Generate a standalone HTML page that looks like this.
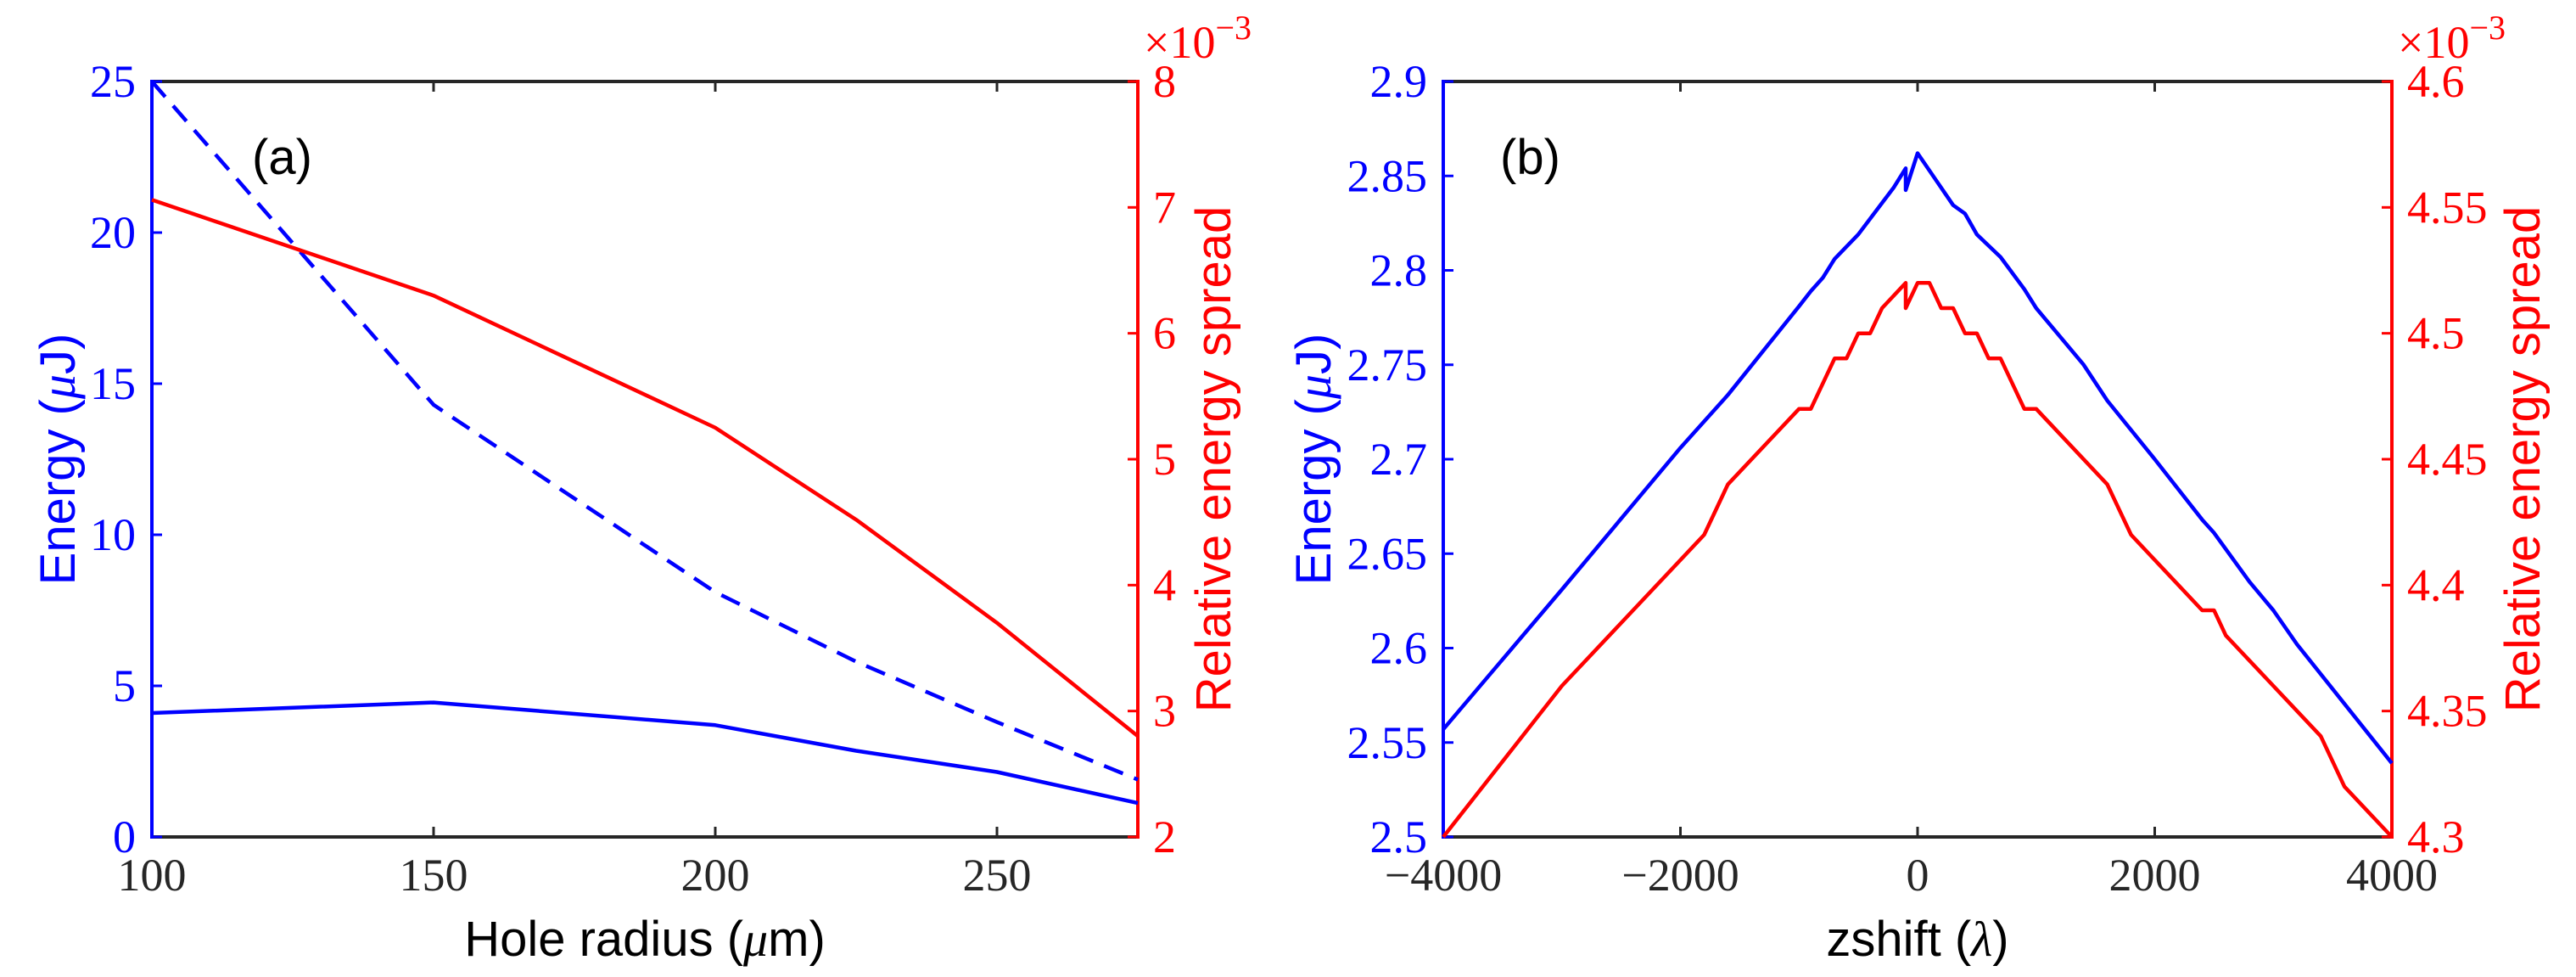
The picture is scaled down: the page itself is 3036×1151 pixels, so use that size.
<!DOCTYPE html>
<html><head><meta charset="utf-8"><style>
html,body{margin:0;padding:0;background:#fff;}
svg{display:block;}
.tk{font-family:"Liberation Serif",serif;font-size:54px;}
.lab{font-family:"Liberation Sans",sans-serif;font-size:58px;}
</style></head><body>
<svg id="fig" width="3036" height="1151" viewBox="0 0 3036 1151" xmlns="http://www.w3.org/2000/svg">
<rect width="3036" height="1151" fill="#fff"/>
</svg>
<script>
// Panel (a) data
const aX = [100,150,200,225,250,275];
const aSolid = [4.1,4.45,3.7,2.85,2.15,1.12];
const aDashed = [25,14.3,8.1,5.8,3.8,1.9];
const aRed = [7.06,6.3,5.25,4.52,3.7,2.8];
const aXTicks = [100,150,200,250];
const aLTicks = [0,5,10,15,20,25];
const aRTicks = [2,3,4,5,6,7,8];
// Panel (b) data
const bBlueX = [-4000,-3000,-2000,-1600,-1000,-900,-800,-700,-500,-200,-100,-100,0,300,400,500,700,900,1000,1400,1600,2000,2400,2500,2800,3000,3200,4000];
const bBlueY = [2.557,2.631,2.706,2.734,2.781,2.789,2.796,2.806,2.819,2.844,2.854,2.8425,2.862,2.8345,2.830,2.819,2.807,2.790,2.780,2.750,2.731,2.700,2.668,2.661,2.635,2.620,2.602,2.539];
const bRedX = [-4000,-3000,-1800,-1600,-1000,-900,-700,-600,-500,-400,-300,-100,-100,0,100,200,300,400,500,600,700,900,1000,1600,1800,2400,2500,2600,3400,3600,4000];
const bRedY = [4.30,4.36,4.42,4.44,4.47,4.47,4.49,4.49,4.50,4.50,4.51,4.52,4.51,4.52,4.52,4.51,4.51,4.50,4.50,4.49,4.49,4.47,4.47,4.44,4.42,4.39,4.39,4.38,4.34,4.32,4.30];
const bXTicks = [-4000,-2000,0,2000,4000];
const bLTicks = [2.5,2.55,2.6,2.65,2.7,2.75,2.8,2.85,2.9];
const bRTicks = [4.3,4.35,4.4,4.45,4.5,4.55,4.6];

const NS='http://www.w3.org/2000/svg';
const svg=document.getElementById('fig');
function mk(tag,attrs,parent){const e=document.createElementNS(NS,tag);for(const k in attrs)e.setAttribute(k,attrs[k]);(parent||svg).appendChild(e);return e;}
function scale(d0,d1,r0,r1){return v=>r0+(v-d0)*(r1-r0)/(d1-d0);}
function fmtX(v){return v<0?'\u2212'+Math.abs(v):String(v);}

function panel(cfg){
  const g=mk('g',{});
  
  
  const L=cfg.L,R=cfg.R,T=96,B=986;
  const sx=scale(cfg.xd[0],cfg.xd[1],L,R);
  const syL=scale(cfg.ld[0],cfg.ld[1],B,T);
  const syR=scale(cfg.rd[0],cfg.rd[1],B,T);
  const gray='#262626';
  const top=mk('line',{x1:L,y1:T,x2:R,y2:T,stroke:gray,'stroke-width':4},g);
  
  const bot=mk('line',{x1:L,y1:B,x2:R,y2:B,stroke:gray,'stroke-width':4},g);
  
  cfg.xt.forEach(v=>{
    const x=sx(v);
    const t1=mk('line',{x1:x,y1:B,x2:x,y2:B-12,stroke:gray,'stroke-width':3},g);
    
    const t2=mk('line',{x1:x,y1:T,x2:x,y2:T+12,stroke:gray,'stroke-width':3},g);
    
    const tx=mk('text',{x:x,y:1049,'text-anchor':'middle',fill:gray,class:'tk'},g);
    
    tx.textContent=fmtX(v);
  });
  const la=mk('line',{x1:L,y1:T-2,x2:L,y2:B+2,stroke:'#0000ff','stroke-width':4},g);
  
  cfg.lt.forEach(v=>{
    const y=syL(v);
    const t=mk('line',{x1:L,y1:y,x2:L+12,y2:y,stroke:'#0000ff','stroke-width':3},g);
    
    const tx=mk('text',{x:L-19,y:y+18,'text-anchor':'end',fill:'#0000ff',class:'tk'},g);
    
    tx.textContent=String(v);
  });
  const ra=mk('line',{x1:R,y1:T-2,x2:R,y2:B+2,stroke:'#ff0000','stroke-width':4},g);
  
  cfg.rt.forEach(v=>{
    const y=syR(v);
    const t=mk('line',{x1:R,y1:y,x2:R-12,y2:y,stroke:'#ff0000','stroke-width':3},g);
    
    const tx=mk('text',{x:R+18,y:y+18,'text-anchor':'start',fill:'#ff0000',class:'tk'},g);
    
    tx.textContent=String(v);
  });
  const ex=mk('text',{x:R+7,y:68,fill:'#ff0000',class:'tk','font-size':54},g);
  
  ex.textContent='\u00d710';
  const sup=mk('tspan',{dy:-22,'font-size':40},ex);
  sup.textContent='\u22123';
  cfg.series.forEach(s=>{
    const sy=s.axis==='L'?syL:syR;
    const pts=s.x.map((xv,i)=>sx(xv).toFixed(1)+','+sy(s.y[i]).toFixed(1)).join(' ');
    const attrs={points:pts,fill:'none',stroke:s.color,'stroke-width':4.5,'stroke-linejoin':'round'};
    if(s.dash)attrs['stroke-dasharray']=s.dash;
    const p=mk('polyline',attrs,g);
    
    
  });
  const pl=mk('text',{x:cfg.panelX,y:205,fill:'#000',class:'lab','font-size':50},g);
  
  pl.textContent=cfg.panel;
  const xl=mk('text',{x:(L+R)/2,y:1126,'text-anchor':'middle',fill:'#000',class:'lab'},g);
  
  xl.innerHTML=cfg.xlabel;
  const cy=(T+B)/2;
  const yl=mk('text',{x:0,y:0,'text-anchor':'middle',fill:'#0000ff',class:'lab',transform:`translate(${cfg.lblX},${cy}) rotate(-90)`},g);
  
  yl.innerHTML='Energy (<tspan font-family="Liberation Serif" font-style="italic">\u03bc</tspan>J)';
  const yr=mk('text',{x:0,y:0,'text-anchor':'middle',fill:'#ff0000',class:'lab',transform:`translate(${cfg.lblR},${cy}) rotate(-90)`},g);
  
  yr.textContent='Relative energy spread';
}

panel({name:'panel-a',L:179,R:1341,xd:[100,275],ld:[0,25],rd:[2,8],xt:aXTicks,lt:aLTicks,rt:aRTicks,
  panel:'(a)',panelX:297,lblX:88,lblR:1450,
  xlabel:'Hole radius (<tspan font-family="Liberation Serif" font-style="italic">\u03bc</tspan>m)',
  series:[
    {name:'energy-solid-line',x:aX,y:aSolid,axis:'L',color:'#0000ff'},
    {name:'energy-dashed-line',x:aX,y:aDashed,axis:'L',color:'#0000ff',dash:'24 14'},
    {name:'energy-spread-line',x:aX,y:aRed,axis:'R',color:'#ff0000'}
  ]});
panel({name:'panel-b',L:1701,R:2819,xd:[-4000,4000],ld:[2.5,2.9],rd:[4.3,4.6],xt:bXTicks,lt:bLTicks,rt:bRTicks,
  panel:'(b)',panelX:1768,lblX:1568,lblR:2993,
  xlabel:'zshift (<tspan font-family="Liberation Serif" font-style="italic">\u03bb</tspan>)',
  series:[
    {name:'energy-line',x:bBlueX,y:bBlueY,axis:'L',color:'#0000ff'},
    {name:'energy-spread-line',x:bRedX,y:bRedY,axis:'R',color:'#ff0000'}
  ]});
</script>
</body></html>
